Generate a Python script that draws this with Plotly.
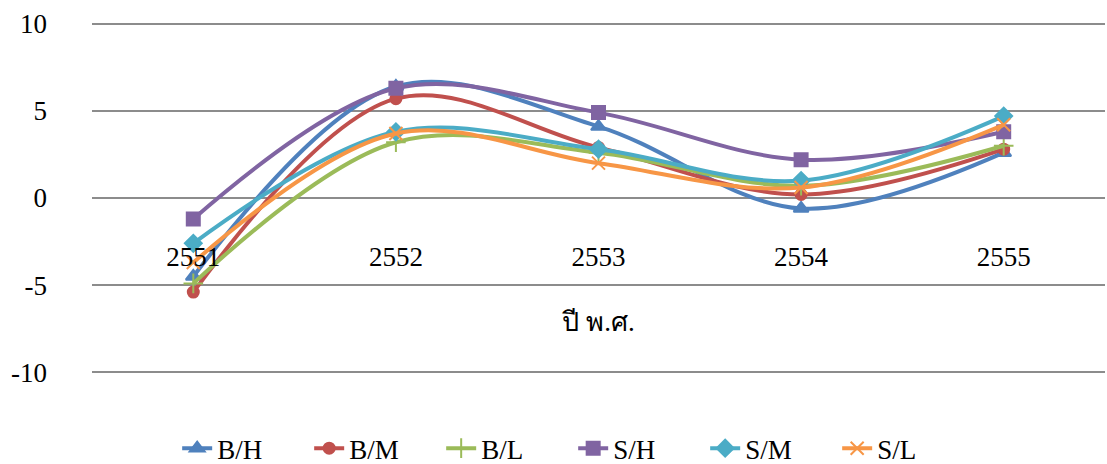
import plotly.graph_objects as go

years = ["2551", "2552", "2553", "2554", "2555"]
series_names = ["B/H", "B/M", "B/L", "S/H", "S/M", "S/L"]
bh = [-4.5, 6.4, 4.1, -0.6, 2.6]
bm = [-5.4, 5.7, 2.9, 0.2, 2.8]
bl = [-4.9, 3.2, 2.6, 0.7, 3.0]
sh = [-1.2, 6.3, 4.9, 2.2, 3.8]
sm = [-2.6, 3.8, 2.8, 1.0, 4.7]
sl = [-3.7, 3.7, 2.0, 0.6, 4.2]
y_ticks = [-10, -5, 0, 5, 10]
y_tick_text = ["-10", "-5", "0", "5", "10"]

values = [bh, bm, bl, sh, sm, sl]
colors = ["#4F81BD", "#C0504D", "#9BBB59", "#8064A2", "#4BACC6", "#F79646"]
symbols = ["triangle-up", "circle", "cross-thin", "square", "diamond", "x-thin"]
sizes = [13, 11, 14, 13, 13, 13]

fig = go.Figure()
for name, vals, c, s, sz in zip(series_names, values, colors, symbols, sizes):
    fig.add_trace(go.Scatter(
        x=years, y=vals, name=name, mode="lines+markers",
        line=dict(color=c, width=4, shape="spline", smoothing=1.0),
        marker=dict(symbol=s, size=sz, color=c, line=dict(color=c, width=2)),
    ))

font_family = "Liberation Serif, Times New Roman, serif"
fig.update_layout(
    width=1107, height=464,
    margin=dict(l=92, r=2, t=22, b=90, autoexpand=False),
    paper_bgcolor="white", plot_bgcolor="white",
    font=dict(family=font_family, size=27, color="black"),
    showlegend=True,
    legend=dict(orientation="h", x=0.475, xanchor="center", y=-0.212, yanchor="middle",
                font=dict(size=27), entrywidth=87, entrywidthmode="pixels",
                traceorder="normal"),
    xaxis=dict(type="category", range=[-0.5, 4.5], anchor="free", position=0.386,
               showgrid=False, showline=False, zeroline=False, ticks="",
               title=dict(text="ปี พ.ศ.", standoff=40, font=dict(size=27))),
    yaxis=dict(range=[-10.1, 10.1], tickvals=y_ticks, ticktext=y_tick_text,
               showgrid=True, gridcolor="#8C8C8C", gridwidth=2, zeroline=False,
               showline=False, ticks="", ticklabelstandoff=44),
)
fig.write_html("out.html")
